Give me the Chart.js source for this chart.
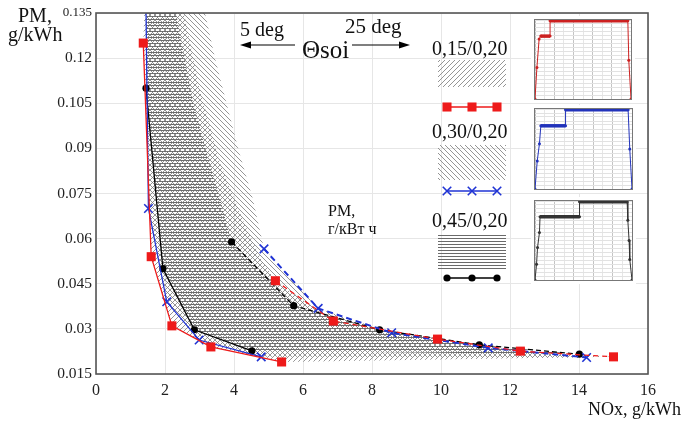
<!DOCTYPE html>
<html>
<head>
<meta charset="utf-8">
<script src="https://cdn.jsdelivr.net/npm/chart.js@4.4.1/dist/chart.umd.min.js"></script>
<style>
  body { margin: 0; background: #fff; }
  #wrap { position: relative; width: 683px; height: 424px; font-family: "Liberation Serif", "Times New Roman", serif; color: #111; }
  #main { position: absolute; left: 0; top: 0; }
  .inset { position: absolute; background: #fff; }
  .t { position: absolute; white-space: nowrap; line-height: 1; }
</style>
</head>
<body>
<div id="wrap">
  <canvas id="main" width="683" height="424"></canvas>
  <canvas id="in1" class="inset" width="104" height="87" style="left:531px;top:16px"></canvas>
  <canvas id="in2" class="inset" width="105" height="88" style="left:531px;top:105px"></canvas>
  <canvas id="in3" class="inset" width="105" height="87" style="left:531px;top:197px"></canvas>

  <div class="t" style="left:18px;top:5px;font-size:20px">PM,</div>
  <div class="t" style="left:8px;top:24px;font-size:20px">g/kWh</div>
  <div class="t" style="left:588px;top:400px;font-size:18px">NOx, g/kWh</div>
  <div class="t" style="left:240px;top:19px;font-size:20px">5 deg</div>
  <div class="t" style="left:345px;top:16px;font-size:21px">25 deg</div>
  <div class="t" style="left:302px;top:37px;font-size:25px">Θsoi</div>
  <div class="t" style="left:432px;top:38px;font-size:20px">0,15/0,20</div>
  <div class="t" style="left:432px;top:121px;font-size:20px">0,30/0,20</div>
  <div class="t" style="left:432px;top:210px;font-size:20px">0,45/0,20</div>
  <div class="t" style="left:328px;top:203px;font-size:16px">PM,</div>
  <div class="t" style="left:328px;top:221px;font-size:16px">г/кВт ч</div>
</div>

<script>
// Axis ticks
const xTicks = [0, 2, 4, 6, 8, 10, 12, 14, 16];
const yTicks = [0.015, 0.03, 0.045, 0.06, 0.075, 0.09, 0.105, 0.12, 0.135];
const yTickLabels = ['0.015', '0.03', '0.045', '0.06', '0.075', '0.09', '0.105', '0.12', '0.135'];

// 0,15/0,20 (red squares): NOx, PM
const redLowX = [1.37, 1.60, 2.20, 3.33, 5.38];
const redLowY = [0.125, 0.054, 0.031, 0.024, 0.019];
const redUpX = [5.20, 6.88, 9.90, 12.30, 15.00];
const redUpY = [0.046, 0.0326, 0.0266, 0.0226, 0.0207];

// 0,30/0,20 (blue crosses), first point is where the line leaves the top
const blueLowX = [1.45, 1.52, 2.05, 2.99, 4.79];
const blueLowY = [0.135, 0.070, 0.039, 0.0263, 0.0207];
const blueUpX = [4.87, 6.44, 8.57, 11.37, 14.22];
const blueUpY = [0.0566, 0.0368, 0.0287, 0.0237, 0.0205];

// 0,45/0,20 (black dots)
const blackLowX = [1.45, 1.94, 2.85, 4.52];
const blackLowY = [0.110, 0.050, 0.0297, 0.0227];
const blackUpX = [3.93, 5.73, 8.22, 11.11, 14.01];
const blackUpY = [0.0589, 0.0377, 0.0297, 0.0247, 0.0216];

// hatched band outlines above the last measured point (bottom -> top)
const redEdgeX = [4.80, 4.30, 3.60, 3.00, 2.55];
const redEdgeY = [0.053, 0.065, 0.085, 0.110, 0.135];
const blueEdgeX = [4.55, 4.12, 3.45, 3.16];
const blueEdgeY = [0.073, 0.090, 0.120, 0.135];
const blackEdgeX = [3.60, 3.20, 2.80, 2.32];
const blackEdgeY = [0.073, 0.089, 0.106, 0.135];
// top-left corners of the bands
const bandTopX = [1.40, 1.45, 1.45];

// insets: injection profiles (time %, lift %)
const in1X = [0, 2, 4.3, 6, 15.7, 15.7, 96.7, 97.7, 100];
const in1Y = [0, 40, 76, 79.6, 79.6, 99, 99, 49, 0];
const in2X = [0, 2.3, 4.6, 6, 31.5, 31.5, 96, 97.7, 100];
const in2Y = [0, 35, 56.7, 79, 79, 99, 99, 50, 0];
const in3X = [0, 1.6, 2.6, 4.6, 5.2, 45.9, 45.9, 95, 95.7, 97, 97.7, 100];
const in3Y = [0, 20, 41, 60, 80, 80, 99, 99, 75.5, 50, 26, 0];

const RED = '#ee1a1a';
const BLUE = '#1f33d4';
const BLACK = '#000';
const SERIF = '"Liberation Serif", "Times New Roman", serif';

Chart.defaults.font.family = SERIF;
Chart.defaults.color = '#222';

function pts(xs, ys) {
  return xs.map((x, i) => ({ x: x, y: ys[i] }));
}

const mainCanvas = document.getElementById('main');
const mainCtx = mainCanvas.getContext('2d');

function hatch(kind, step, color, width) {
  const c = document.createElement('canvas');
  c.width = step;
  c.height = step;
  const g = c.getContext('2d');
  g.strokeStyle = color;
  g.lineWidth = width;
  g.beginPath();
  if (kind === '-') {
    g.moveTo(0, step / 2);
    g.lineTo(step, step / 2);
  } else if (kind === '/') {
    g.moveTo(-1, step + 1); g.lineTo(step + 1, -1);
    g.moveTo(-1, 1); g.lineTo(1, -1);
    g.moveTo(step - 1, step + 1); g.lineTo(step + 1, step - 1);
  } else {
    g.moveTo(-1, -1); g.lineTo(step + 1, step + 1);
    g.moveTo(step - 1, -1); g.lineTo(step + 1, 1);
    g.moveTo(-1, step - 1); g.lineTo(1, step + 1);
  }
  g.stroke();
  return mainCtx.createPattern(c, 'repeat');
}

const redHatch = hatch('/', 5, '#7a7a7a', 0.8);
const blueHatch = hatch('\\', 5, '#7a7a7a', 0.8);
const blackHatch = hatch('-', 3, '#6a6a6a', 1);

// closed outline: top-left corner, lower curve, upper curve backwards, edge up to the top
function band(topX, lowX, lowY, upX, upY, edgeX, edgeY) {
  const p = [{ x: topX, y: 0.135 }];
  lowX.forEach((x, i) => { if (lowY[i] < 0.135) p.push({ x: x, y: lowY[i] }); });
  for (let i = upX.length - 1; i >= 0; i--) p.push({ x: upX[i], y: upY[i] });
  edgeX.forEach((x, i) => p.push({ x: x, y: edgeY[i] }));
  return p;
}

function bandSet(data, pattern) {
  return {
    data: data, fill: 'shape', backgroundColor: pattern,
    borderWidth: 0, pointRadius: 0, order: 10
  };
}

function lineSet(xs, ys, color, style, radius, dash, width) {
  return {
    data: pts(xs, ys),
    borderColor: color, backgroundColor: color,
    borderWidth: width || 1.3, borderDash: dash || [],
    pointStyle: style,
    pointRadius: ys.map(y => (y >= 0.135 ? 0 : radius)),
    pointBorderWidth: style === 'crossRot' ? 1.6 : 0,
    pointBorderColor: color,
    fill: false, order: 1
  };
}

// frame, arrows and the legend samples
const framePlugin = {
  id: 'frame',
  afterDraw(chart) {
    const ctx = chart.ctx;
    const a = chart.chartArea;
    ctx.save();
    ctx.strokeStyle = '#555';
    ctx.lineWidth = 1.6;
    ctx.strokeRect(a.left, a.top, a.right - a.left, a.bottom - a.top);

    // Θsoi arrows
    ctx.strokeStyle = '#000';
    ctx.fillStyle = '#000';
    ctx.lineWidth = 1.2;
    [[295, 240], [352, 410]].forEach(([from, to]) => {
      const d = Math.sign(to - from);
      ctx.beginPath();
      ctx.moveTo(from, 45);
      ctx.lineTo(to - d * 8, 45);
      ctx.stroke();
      ctx.beginPath();
      ctx.moveTo(to, 45);
      ctx.lineTo(to - d * 11, 41.5);
      ctx.lineTo(to - d * 11, 48.5);
      ctx.closePath();
      ctx.fill();
    });

    // legend patches
    ctx.fillStyle = redHatch;
    ctx.fillRect(438, 60, 68, 27);
    ctx.fillStyle = blueHatch;
    ctx.fillRect(438, 145, 68, 35);
    ctx.fillStyle = blackHatch;
    ctx.fillRect(438, 235, 68, 35);

    // legend line samples
    const samples = [
      [107, RED, 'rect', 6.4, 0],
      [191, BLUE, 'crossRot', 6, 1.6],
      [278, BLACK, 'circle', 3.6, 0]
    ];
    samples.forEach(([y, color, style, r, bw]) => {
      ctx.strokeStyle = color;
      ctx.fillStyle = color;
      ctx.lineWidth = 1.3;
      ctx.beginPath();
      ctx.moveTo(447, y);
      ctx.lineTo(497, y);
      ctx.stroke();
      [447, 472, 497].forEach(x => {
        ctx.lineWidth = bw || 1;
        Chart.helpers.drawPoint(ctx, { pointStyle: style, radius: r, rotation: 0, borderWidth: bw }, x, y);
      });
    });
    ctx.restore();
  }
};

new Chart(mainCtx, {
  type: 'line',
  data: {
    datasets: [
      lineSet(redLowX, redLowY, RED, 'rect', 6.4),
      lineSet(redUpX, redUpY, RED, 'rect', 6.4, [5, 4]),
      lineSet(blueLowX, blueLowY, BLUE, 'crossRot', 6),
      lineSet(blueUpX, blueUpY, BLUE, 'crossRot', 6, [6, 4], 2),
      lineSet(blackLowX, blackLowY, BLACK, 'circle', 3.6),
      lineSet(blackUpX, blackUpY, BLACK, 'circle', 3.6, [5, 3]),
      bandSet(band(bandTopX[0], redLowX, redLowY, redUpX, redUpY, redEdgeX, redEdgeY), redHatch),
      bandSet(band(bandTopX[1], blueLowX, blueLowY, blueUpX, blueUpY, blueEdgeX, blueEdgeY), blueHatch),
      bandSet(band(bandTopX[2], blackLowX, blackLowY, blackUpX, blackUpY, blackEdgeX, blackEdgeY), blackHatch)
    ]
  },
  options: {
    responsive: false,
    animation: false,
    events: [],
    layout: { padding: { top: 13, right: 35, left: 0, bottom: 0 } },
    plugins: {
      legend: { display: false },
      tooltip: { enabled: false }
    },
    scales: {
      x: {
        type: 'linear', min: 0, max: 16,
        afterBuildTicks: s => { s.ticks = xTicks.map(v => ({ value: v })); },
        afterFit: s => { s.height = 50; },
        grid: { color: '#e6e6e6', drawTicks: false },
        border: { display: false },
        ticks: { padding: 7, color: '#222', font: { size: 16 } }
      },
      y: {
        type: 'linear', min: 0.015, max: 0.135,
        afterBuildTicks: s => { s.ticks = yTicks.map(v => ({ value: v })); },
        afterFit: s => { s.width = 96; },
        grid: { color: '#e6e6e6', drawTicks: false },
        border: { display: false },
        ticks: {
          padding: 4, color: '#222',
          font: c => ({ size: c.index === yTicks.length - 1 ? 13 : 15.5 }),
          callback: (v, i) => yTickLabels[i]
        }
      }
    }
  },
  plugins: [framePlugin]
});

const insetFrame = {
  id: 'insetFrame',
  afterDraw(chart) {
    const a = chart.chartArea;
    chart.ctx.save();
    chart.ctx.strokeStyle = '#777';
    chart.ctx.lineWidth = 1;
    chart.ctx.strokeRect(a.left - 0.5, a.top - 0.5, a.right - a.left + 1, a.bottom - a.top + 1);
    chart.ctx.restore();
  }
};

function inset(id, xs, ys, color) {
  new Chart(document.getElementById(id), {
    type: 'line',
    data: {
      datasets: [{
        data: pts(xs, ys),
        borderColor: color, backgroundColor: color,
        borderWidth: 1, pointRadius: 1.5, pointBorderWidth: 0,
        segment: { borderWidth: c => (c.p0.parsed.y === c.p1.parsed.y ? 3.5 : 1) }
      }]
    },
    options: {
      responsive: false,
      animation: false,
      events: [],
      layout: { padding: 3 },
      plugins: { legend: { display: false }, tooltip: { enabled: false } },
      scales: {
        x: {
          type: 'linear', min: 0, max: 100,
          ticks: { display: false, stepSize: 10 },
          grid: { color: c => (c.tick.value % 20 === 0 ? '#c4c4c4' : '#e6e6e6'), drawTicks: false },
          border: { display: false }
        },
        y: {
          min: 0, max: 100,
          ticks: { display: false, stepSize: 5 },
          grid: { color: '#e2e2e2', drawTicks: false },
          border: { display: false }
        }
      }
    },
    plugins: [insetFrame]
  });
}

inset('in1', in1X, in1Y, '#cc2020');
inset('in2', in2X, in2Y, '#2233bb');
inset('in3', in3X, in3Y, '#333');
</script>
</body>
</html>
